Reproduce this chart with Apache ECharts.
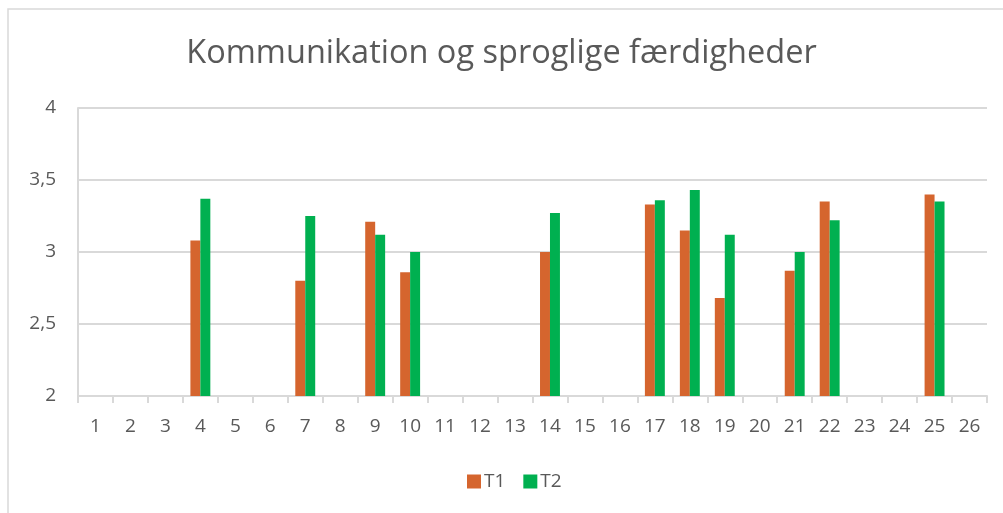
<!DOCTYPE html>
<html>
<head>
<meta charset="utf-8">
<script src="https://cdn.jsdelivr.net/npm/echarts@6/dist/echarts.min.js"></script>
<style>
  html, body { margin: 0; padding: 0; background: #fff; }
  #chart { width: 1003px; height: 513px; }
</style>
</head>
<body>
<div id="chart"></div>
<script>
// kategorier 1..26
const categories = ['1', '2', '3', '4', '5', '6', '7', '8', '9', '10', '11', '12', '13',
  '14', '15', '16', '17', '18', '19', '20', '21', '22', '23', '24', '25', '26'];
// T1 (orange) - tomme felter = null
const t1Values = [null, null, null, 3.08, null, null, 2.80, null, 3.21, 2.86, null, null, null,
  3.00, null, null, 3.33, 3.15, 2.68, null, 2.87, 3.35, null, null, 3.40, null];
// T2 (grøn)
const t2Values = [null, null, null, 3.37, null, null, 3.25, null, 3.12, 3.00, null, null, null,
  3.27, null, null, 3.36, 3.43, 3.12, null, 3.00, 3.22, null, null, 3.35, null];
const yTicks = [2, 2.5, 3, 3.5, 4];

const font = 'Open Sans';
const myChart = echarts.init(document.getElementById('chart'));
const option = {
  animation: false,
  color: ['#D5652E', '#00B050'],
  graphic: [
    {
      type: 'rect',
      shape: { x: 8, y: 9, width: 1200, height: 700 },
      style: { fill: 'none', stroke: '#d9d9d9', lineWidth: 1.5 },
      silent: true
    }
  ],
  title: {
    text: 'Kommunikation og sproglige færdigheder',
    left: 'center',
    top: 32,
    textStyle: {
      fontFamily: font,
      fontSize: 32.5,
      fontWeight: 'normal',
      color: '#595959'
    }
  },
  legend: {
    data: ['T1', 'T2'],
    bottom: 17,
    left: 462,
    itemWidth: 14,
    itemHeight: 14,
    itemGap: 18,
    icon: 'rect',
    textStyle: { fontFamily: font, fontSize: 19, color: '#595959', padding: [0, 0, 0, -2] }
  },
  grid: {
    left: 78,
    right: 16,
    top: 108,
    bottom: 117,
    containLabel: false
  },
  xAxis: {
    type: 'category',
    data: categories,
    boundaryGap: true,
    axisLine: { lineStyle: { color: '#d9d9d9', width: 2 } },
    axisTick: { show: true, alignWithLabel: false, length: 7, lineStyle: { color: '#d9d9d9', width: 2 } },
    axisLabel: {
      interval: 0,
      margin: 21,
      fontFamily: font,
      fontSize: 19,
      color: '#595959'
    }
  },
  yAxis: {
    type: 'value',
    min: yTicks[0],
    max: yTicks[yTicks.length - 1],
    interval: 0.5,
    axisLine: { show: true, lineStyle: { color: '#d9d9d9', width: 2 } },
    axisTick: { show: false },
    axisLabel: {
      margin: 22,
      fontFamily: font,
      fontSize: 19,
      color: '#595959',
      formatter: v => String(v).replace('.', ',')
    },
    splitLine: { show: true, lineStyle: { color: '#d9d9d9', width: 2 } }
  },
  series: [
    {
      name: 'T1',
      type: 'bar',
      barGap: '0%',
      barCategoryGap: '43%',
      data: t1Values
    },
    {
      name: 'T2',
      type: 'bar',
      data: t2Values
    }
  ]
};
myChart.setOption(option);
</script>
</body>
</html>
